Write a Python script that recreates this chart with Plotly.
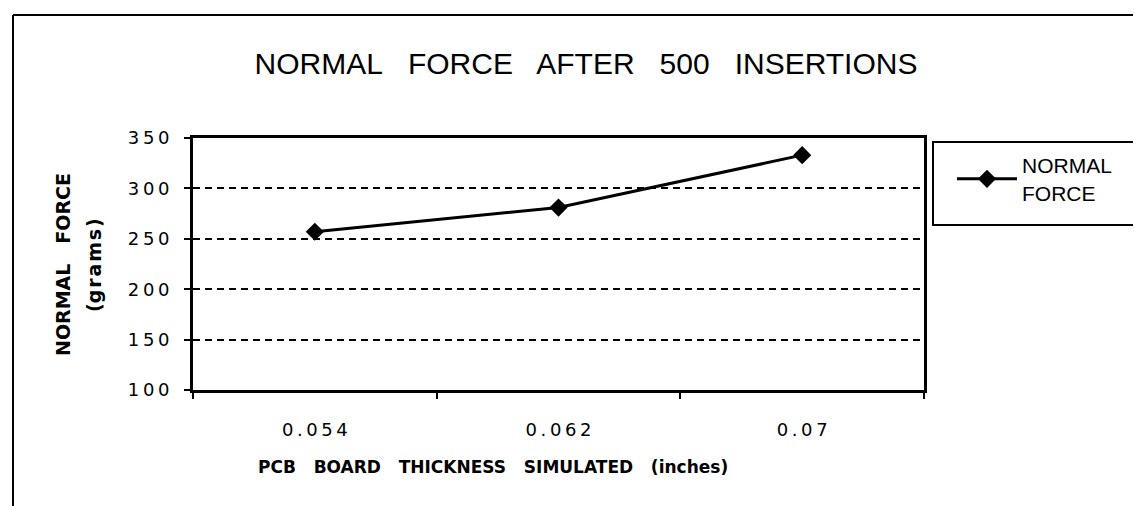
import plotly.graph_objects as go

# ---- data ----
thickness = ["0.054", "0.062", "0.07"]
normal_force = [257, 281, 333]
series_name = "NORMAL<br>FORCE"
y_ticks = [100, 150, 200, 250, 300, 350]

TS = "\u2009"  # thin space used to mimic the wide letter spacing of the original
x_tick_text = [TS.join(list(c)) for c in thickness]
y_tick_text = [TS.join(list(str(v))) for v in y_ticks]

W, H = 1141, 506
L, R, T, B = 185, 916, 130, 382  # plot area in pixels


def px(x):
    return (x - L) / (R - L)


def py(y):
    return (B - y) / (B - T)


fig = go.Figure()
fig.add_trace(go.Scatter(
    x=thickness, y=normal_force, name=series_name,
    mode="lines+markers",
    line=dict(color="black", width=3),
    marker=dict(symbol="diamond", size=14, color="black"),
))

tick_font = dict(family="DejaVu Sans", size=18, color="black")

fig.update_layout(
    width=W, height=H, autosize=False,
    margin=dict(l=L, r=W - R, t=T, b=H - B),
    paper_bgcolor="white", plot_bgcolor="white",
    showlegend=True,
    title=dict(
        text="NORMAL\u00a0\u00a0 FORCE\u00a0\u00a0 AFTER\u00a0\u00a0 500\u00a0\u00a0 INSERTIONS",
        font=dict(family="Liberation Sans, Arial", size=30, color="black"),
        x=px(578), xref="paper", xanchor="center",
        y=1 - 55 / H, yref="container", yanchor="middle",
    ),
    xaxis=dict(
        type="category", range=[-0.5, 2.5],
        showline=True, linecolor="black", linewidth=3, mirror=True,
        ticks="outside", ticklen=6, tickwidth=2, tickcolor="black",
        tickson="boundaries",
        tickvals=thickness, ticktext=x_tick_text,
        tickfont=tick_font, ticklabelstandoff=21,
        showgrid=False, zeroline=False,
    ),
    yaxis=dict(
        range=[100, 350],
        tickvals=y_ticks, ticktext=y_tick_text,
        showline=True, linecolor="black", linewidth=3, mirror=True,
        ticks="outside", ticklen=6, tickwidth=2, tickcolor="black",
        tickfont=tick_font, ticklabelstandoff=11,
        showgrid=True, gridcolor="black", gridwidth=1.5, griddash="7px,5px",
        zeroline=False,
    ),
    legend=dict(
        x=px(944), y=py(137), xanchor="left", yanchor="top",
        xref="paper", yref="paper",
        bgcolor="rgba(0,0,0,0)", borderwidth=0,
        font=dict(family="Liberation Sans, Arial", size=21, color="black"),
        itemwidth=60,
    ),
    annotations=[
        # y axis title (two lines, rotated)
        dict(text="<b>NORMAL\u00a0\u00a0 FORCE</b>", textangle=-90,
             xref="paper", yref="paper", x=px(55), y=py(257),
             xanchor="center", yanchor="middle", showarrow=False,
             font=dict(family="DejaVu Sans", size=19, color="black")),
        dict(text="<b>(g\u200ar\u200aa\u200am\u200as\u200a)</b>", textangle=-90,
             xref="paper", yref="paper", x=px(86), y=py(257),
             xanchor="center", yanchor="middle", showarrow=False,
             font=dict(family="DejaVu Sans", size=19, color="black")),
        # x axis title
        dict(text="<b>PCB\u00a0\u00a0 BOARD\u00a0\u00a0 THICKNESS\u00a0\u00a0 SIMULATED\u00a0\u00a0 (inches)</b>",
             xref="paper", yref="paper", x=px(485), y=py(459),
             xanchor="center", yanchor="middle", showarrow=False,
             font=dict(family="DejaVu Sans", size=17, color="black")),
    ],
    shapes=[
        # legend frame
        dict(type="rect", xref="paper", yref="paper",
             x0=px(925), x1=px(1131), y0=py(217), y1=py(134),
             line=dict(color="black", width=2), fillcolor="rgba(0,0,0,0)"),
        # outer chart frame (top and left edges)
        dict(type="line", xref="paper", yref="paper",
             x0=px(5), x1=px(W + 5), y0=py(7), y1=py(7),
             line=dict(color="black", width=2)),
        dict(type="line", xref="paper", yref="paper",
             x0=px(5), x1=px(5), y0=py(7), y1=py(500),
             line=dict(color="black", width=2)),
    ],
)

fig.write_html("out.html")
